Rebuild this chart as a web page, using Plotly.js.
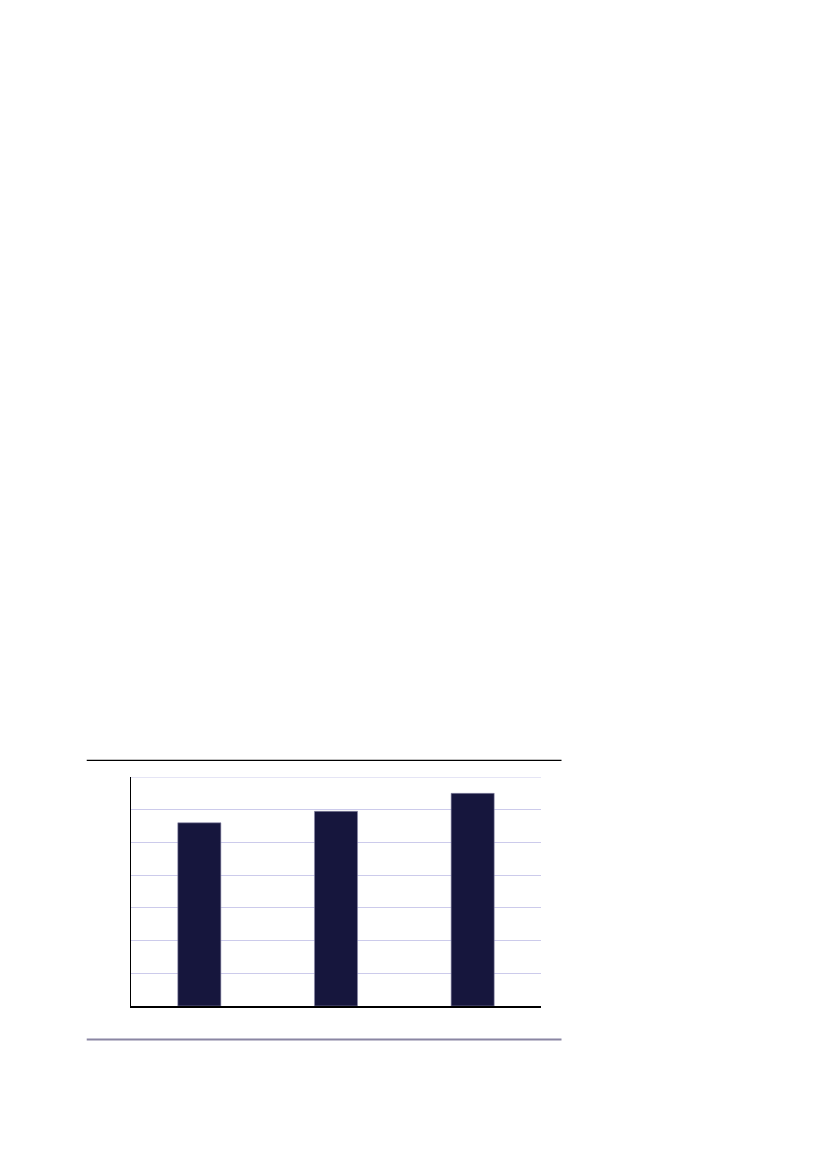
<!DOCTYPE html>
<html>
<head>
<meta charset="utf-8">
<script src="https://cdn.plot.ly/plotly-3.0.1.min.js"></script>
<style>html,body{margin:0;padding:0;background:#fff;}#chart{width:827px;height:1169px;}</style>
</head>
<body>
<div id="chart"></div>
<script>
var categories = ["1", "2", "3"];
var values = [5.6, 5.95, 6.5];
var yTicks = [0, 1, 2, 3, 4, 5, 6, 7];

var trace = {
  type: "bar",
  x: categories,
  y: values,
  marker: {color: "#16163d", line: {color: "#8a88a8", width: 0.6}},
  hoverinfo: "skip"
};

var layout = {
  width: 827,
  height: 1169,
  margin: {l: 131, r: 286, t: 777, b: 163},
  paper_bgcolor: "#ffffff",
  plot_bgcolor: "#ffffff",
  showlegend: false,
  bargap: 0.685,
  xaxis: {
    type: "category",
    showticklabels: false,
    ticks: "",
    showgrid: false,
    showline: true,
    linecolor: "#000000",
    linewidth: 1.5,
    zeroline: false
  },
  yaxis: {
    range: [0, 7],
    tickvals: yTicks,
    showticklabels: false,
    ticks: "",
    showgrid: true,
    gridcolor: "#cccbeb",
    gridwidth: 1,
    showline: true,
    linecolor: "#000000",
    linewidth: 1.5,
    zeroline: false
  },
  shapes: [
    {type: "line", xref: "paper", yref: "y", layer: "below",
     x0: 0, x1: 1, y0: yTicks[yTicks.length - 1], y1: yTicks[yTicks.length - 1],
     line: {color: "#cccbeb", width: 1}},
    {type: "line", xref: "paper", yref: "paper",
     x0: -0.108, x1: 1.05, y0: 1.073, y1: 1.073,
     line: {color: "#000000", width: 1.2}},
    {type: "line", xref: "paper", yref: "paper",
     x0: -0.108, x1: 1.05, y0: -0.146, y1: -0.146,
     line: {color: "#8a86a3", width: 2}}
  ]
};

Plotly.newPlot("chart", [trace], layout, {displayModeBar: false, staticPlot: true});
</script>
</body>
</html>
